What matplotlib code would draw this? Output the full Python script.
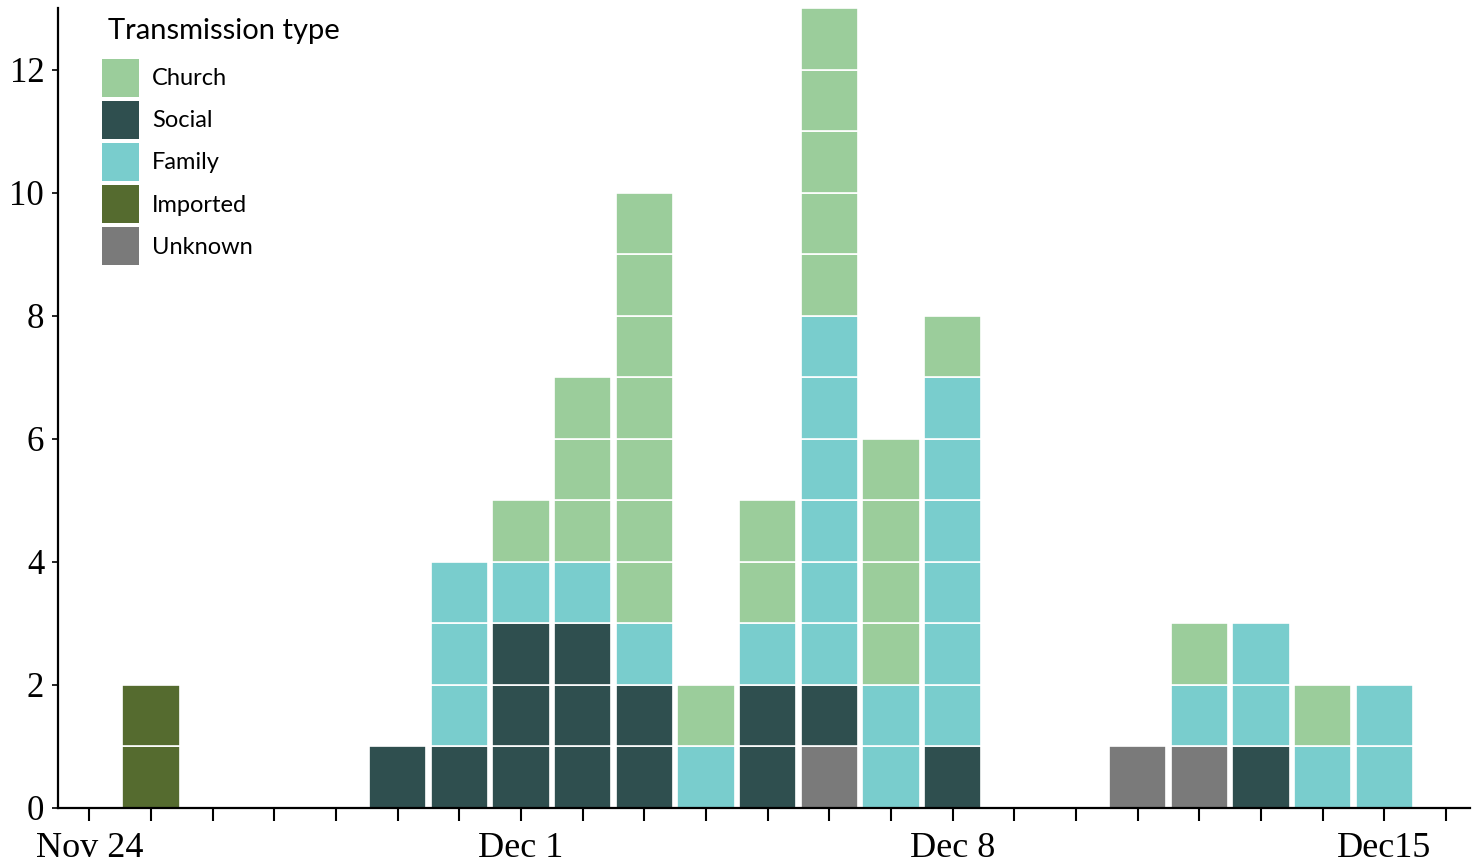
"""Daily cases by transmission type, stacked as unit blocks."""
import matplotlib
matplotlib.use("Agg")
import matplotlib.pyplot as plt
from matplotlib.patches import Patch
from matplotlib.ticker import FixedLocator

# day index 0 = Nov 24 ... 21 = Dec 15
days = list(range(22))
tick_days = [0, 7, 14, 21]
tick_labels = ["Nov 24", "Dec 1", "Dec 8", "Dec15"]

unknown = [0, 0, 0, 0, 0, 0, 0, 0, 0, 0, 0, 0, 1, 0, 0, 0, 0, 1, 1, 0, 0, 0]
imported = [0, 2, 0, 0, 0, 0, 0, 0, 0, 0, 0, 0, 0, 0, 0, 0, 0, 0, 0, 0, 0, 0]
social = [0, 0, 0, 0, 0, 1, 1, 3, 3, 2, 0, 2, 1, 0, 1, 0, 0, 0, 0, 1, 0, 0]
family = [0, 0, 0, 0, 0, 0, 3, 1, 1, 1, 1, 1, 6, 2, 6, 0, 0, 0, 1, 2, 1, 2]
church = [0, 0, 0, 0, 0, 0, 0, 1, 3, 7, 1, 2, 5, 4, 1, 0, 0, 0, 1, 0, 1, 0]

# bottom-to-top stacking order
series = [
    ("Unknown", unknown, "#7a7a7a"),
    ("Imported", imported, "#556b2f"),
    ("Social", social, "#2f4f4f"),
    ("Family", family, "#79cdcd"),
    ("Church", church, "#9bcd9b"),
]
legend_order = ["Church", "Social", "Family", "Imported", "Unknown"]

fig = plt.figure(figsize=(14.73, 8.66), dpi=100)
ax = fig.add_axes([0.0394, 0.067, 0.9586, 0.9238])

base = [0] * len(days)
for name, counts, color in series:
    for d, n in zip(days, counts):
        for k in range(n):
            ax.bar(d, 1, bottom=base[d] + k, width=0.93, color=color,
                   edgecolor="white", linewidth=1.2)
        base[d] += n

ax.set_xlim(-0.51, 22.39)
ax.set_ylim(0, 13)
ax.set_yticks(range(0, 13, 2))
ax.xaxis.set_major_locator(FixedLocator(tick_days))
ax.set_xticklabels(tick_labels)
ax.xaxis.set_minor_locator(FixedLocator(list(range(0, 23))))

for side in ("top", "right"):
    ax.spines[side].set_visible(False)
for side in ("left", "bottom"):
    ax.spines[side].set_linewidth(1.6)

ax.tick_params(axis="x", which="both", direction="out", length=9, width=1.5,
               pad=8)
ax.tick_params(axis="y", direction="out", length=4, width=1.2, pad=6)
for lab in ax.get_xticklabels():
    lab.set_fontfamily("Liberation Serif")
    lab.set_fontsize(26)
for lab in ax.get_yticklabels():
    lab.set_fontfamily("Liberation Serif")
    lab.set_fontsize(25)

colors = {name: color for name, _, color in series}
handles = [Patch(facecolor=colors[n], edgecolor="none") for n in legend_order]
fig.legend(handles, legend_order, loc="upper left",
           bbox_to_anchor=(0.0692, 0.9319), frameon=False,
           prop={"family": "Lato", "size": 17},
           handlelength=1.57, handleheight=2.1, labelspacing=0.17,
           handletextpad=0.55, borderpad=0, borderaxespad=0)
fig.text(0.0733, 0.964, "Transmission type", family="Lato", fontsize=21,
         ha="left", va="center")

fig.savefig("out.png", dpi=100)
